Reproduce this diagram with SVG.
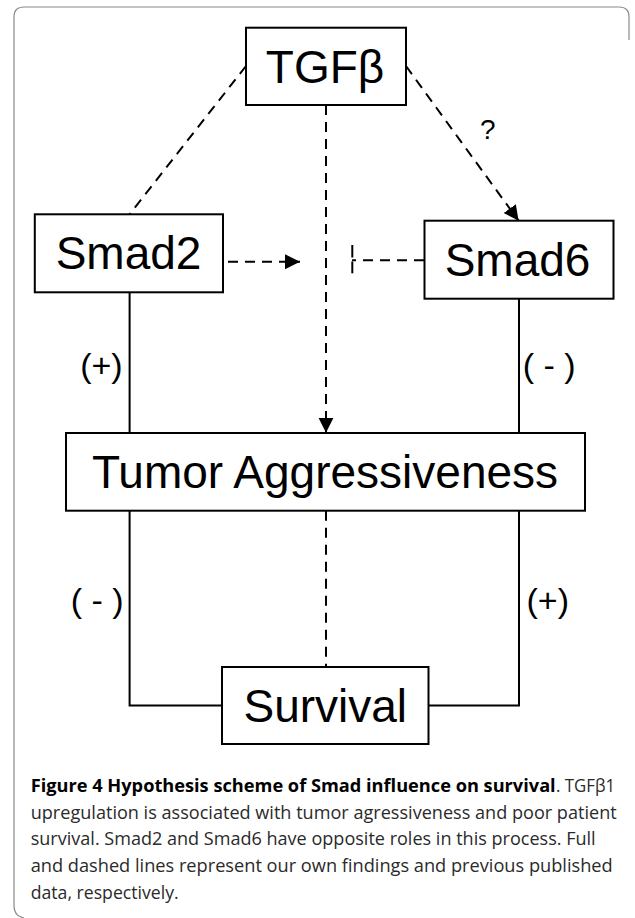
<svg xmlns="http://www.w3.org/2000/svg" width="635" height="918" viewBox="0 0 635 918">
<style>
.box{fill:#fff;stroke:#000;stroke-width:2}
.lbl{font-family:"Liberation Sans",Arial,sans-serif;font-size:46px;fill:#000;text-anchor:middle}
.sign{font-family:"Liberation Sans",Arial,sans-serif;font-size:34px;fill:#000}
.solid{fill:none;stroke:#000;stroke-width:2}
.dash{fill:none;stroke:#000;stroke-width:2;stroke-dasharray:10 7}
.cap{font-family:"Open Sans","Noto Sans",sans-serif;font-size:17.5px;fill:#2a2a2a}
.capb{font-family:"Open Sans","Noto Sans",sans-serif;font-size:17.5px;font-weight:bold;fill:#000}
</style>
<defs>
<marker id="arr" markerUnits="userSpaceOnUse" markerWidth="16" markerHeight="16" refX="15" refY="7.5" orient="auto">
<path d="M0,0 L15,7.5 L0,15 Z" fill="#000"/>
</marker>
</defs>
<path d="M629,40 V17 Q629,7 619,7 H24 Q14,7 14,17 V906 Q14,916 24,918" fill="none" stroke="#8a8a8a" stroke-width="1.2"/>
<g id="connectors">
<line class="dash" x1="246" y1="66" x2="129.6" y2="214.3"/>
<line class="dash" x1="406" y1="66" x2="518.6" y2="220.7" marker-end="url(#arr)"/>
<line class="dash" x1="326" y1="105" x2="326" y2="432.7" marker-end="url(#arr)"/>
<line class="dash" x1="228" y1="261.7" x2="300" y2="261.7" marker-end="url(#arr)"/>
<line class="dash" x1="424" y1="260.3" x2="352" y2="260.3"/>
<line class="solid" x1="352.3" y1="245" x2="352.3" y2="257.5"/>
<line class="solid" x1="352.3" y1="261.5" x2="352.3" y2="273.3"/>
<line class="solid" x1="129.6" y1="292.3" x2="129.6" y2="433"/>
<line class="solid" x1="519" y1="298.7" x2="519" y2="433"/>
<polyline class="solid" points="129.6,510.7 129.6,705.5 222,705.5"/>
<polyline class="solid" points="519,510.7 519,705.5 429,705.5"/>
<line class="dash" x1="326" y1="510.7" x2="326" y2="667"/>
<text class="sign" x="480" y="139" style="font-size:28px">?</text>
<text class="sign" x="122.7" y="377" text-anchor="end">(+)</text>
<text class="sign" x="522.7" y="377">( - )</text>
<text class="sign" x="123.5" y="612" text-anchor="end">( - )</text>
<text class="sign" x="526.5" y="612">(+)</text>
</g>
<g id="tgfb">
<rect class="box" x="246" y="27.7" width="160" height="77.3"/>
<text class="lbl" x="325" y="83">TGFβ</text>
</g>
<g id="smad2">
<rect class="box" x="34.8" y="214.3" width="188.2" height="78"/>
<text class="lbl" x="128.5" y="269.3">Smad2</text>
</g>
<g id="smad6">
<rect class="box" x="424.5" y="220.7" width="189" height="78"/>
<text class="lbl" x="517.5" y="276">Smad6</text>
</g>
<g id="tumor">
<rect class="box" x="66" y="433" width="519" height="77.7"/>
<text class="lbl" x="325" y="488.3">Tumor Aggressiveness</text>
</g>
<g id="survival">
<rect class="box" x="222" y="667" width="206.5" height="77"/>
<text class="lbl" x="325.3" y="722">Survival</text>
</g>
<g id="caption">
<text class="capb" x="30.7" y="792" textLength="525" lengthAdjust="spacingAndGlyphs">Figure 4 Hypothesis scheme of Smad influence on survival</text>
<text class="cap" x="556" y="792" textLength="59" lengthAdjust="spacingAndGlyphs">. TGFβ1</text>
<text class="cap" x="30.7" y="818.5" textLength="586" lengthAdjust="spacingAndGlyphs">upregulation is associated with tumor agressiveness and poor patient</text>
<text class="cap" x="30.7" y="845.3" textLength="565" lengthAdjust="spacingAndGlyphs">survival. Smad2 and Smad6 have opposite roles in this process. Full</text>
<text class="cap" x="30.7" y="872" textLength="582" lengthAdjust="spacingAndGlyphs">and dashed lines represent our own findings and previous published</text>
<text class="cap" x="30.7" y="898.5" textLength="148" lengthAdjust="spacingAndGlyphs">data, respectively.</text>
</g>
</svg>
